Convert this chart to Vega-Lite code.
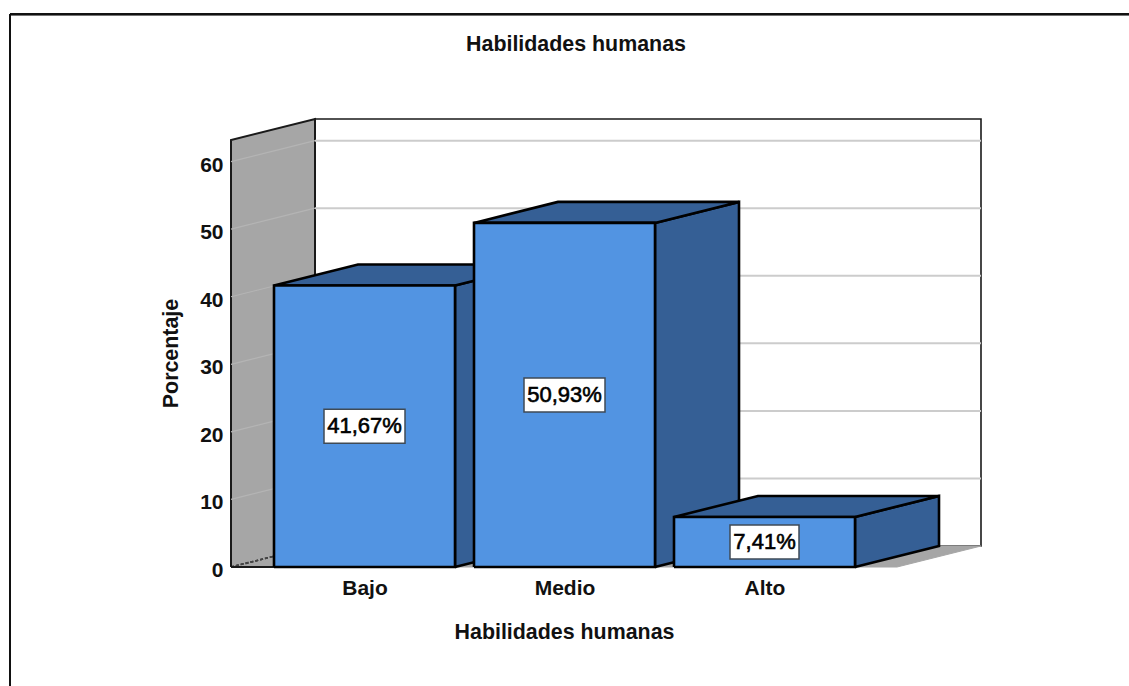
{
  "$schema": "https://vega.github.io/schema/vega-lite/v6.json",
  "width": 750,
  "height": 448,
  "autosize": "none",
  "padding": {"left": 231, "top": 119, "right": 148, "bottom": 119},
  "background": "white",
  "config": {"view": {"stroke": null}, "font": "Liberation Sans"},
  "title": {
    "text": "Habilidades humanas",
    "font": "Liberation Sans",
    "fontSize": 21.4,
    "fontWeight": "bold",
    "color": "#111111",
    "frame": "group",
    "anchor": "middle",
    "dx": -30,
    "offset": -42
  },
  "data": {
    "values": [
      {"nivel": "Bajo", "porcentaje": 41.67},
      {"nivel": "Medio", "porcentaje": 50.93},
      {"nivel": "Alto", "porcentaje": 7.41}
    ]
  },
  "layer": [
    {
      "data": {"values": [{"plano": "fondo"}]},
      "transform": [
        {"calculate": "[0.7525, 4.0825, 4.0825, 0.7525, 0.7525]", "as": "xs"},
        {"calculate": "[3.108, 3.108, 66.31, 66.31, 3.108]", "as": "ys"},
        {"calculate": "[0, 1, 2, 3, 4]", "as": "ord"},
        {"flatten": ["xs", "ys", "ord"]}
      ],
      "mark": {"type": "line", "fill": "white", "stroke": "#1a1a1a", "strokeWidth": 1.6, "strokeJoin": "miter"},
      "encoding": {
        "x": {
          "field": "xs",
          "type": "quantitative",
          "scale": {"domain": [0.3325, 4.0825], "nice": false, "zero": false},
          "axis": {
            "values": [1, 2, 3],
            "labelExpr": "['Bajo', 'Medio', 'Alto'][datum.value - 1]",
            "domain": false,
            "ticks": false,
            "grid": false,
            "labelFont": "Liberation Sans",
            "labelFontSize": 21,
            "labelFontWeight": "bold",
            "labelColor": "#111111",
            "labelPadding": 10,
            "labelFlush": false,
            "title": "Habilidades humanas",
            "titleFont": "Liberation Sans",
            "titleFontSize": 21.4,
            "titleFontWeight": "bold",
            "titleColor": "#111111",
            "titleX": 333,
            "titleY": 54,
            "titleAnchor": "middle",
            "titleAlign": "center"
          }
        },
        "y": {
          "field": "ys",
          "type": "quantitative",
          "scale": {"domain": [0, 66.31], "nice": false, "zero": false},
          "axis": {
            "values": [0, 10, 20, 30, 40, 50, 60],
            "domain": false,
            "ticks": false,
            "grid": false,
            "labelFont": "Liberation Sans",
            "labelFontSize": 21,
            "labelFontWeight": "bold",
            "labelColor": "#111111",
            "labelPadding": 8,
            "labelOffset": 3.5,
            "labelFlush": false,
            "title": "Porcentaje",
            "titleFont": "Liberation Sans",
            "titleFontSize": 21.4,
            "titleFontWeight": "bold",
            "titleColor": "#111111",
            "titleX": -50,
            "titleY": 234,
            "titleAnchor": "middle",
            "titleAlign": "center"
          }
        },
        "order": {"field": "ord", "type": "quantitative"}
      }
    },
    {
      "data": {"values": [{"plano": "suelo"}]},
      "transform": [
        {"calculate": "[0.3325, 3.6625, 4.0825, 0.7525, 0.3325]", "as": "xs"},
        {"calculate": "[0, 0, 3.108, 3.108, 0]", "as": "ys"},
        {"calculate": "[0, 1, 2, 3, 4]", "as": "ord"},
        {"flatten": ["xs", "ys", "ord"]}
      ],
      "mark": {"type": "line", "fill": "#a6a6a6", "stroke": "#a6a6a6", "strokeWidth": 1},
      "encoding": {
        "x": {"field": "xs", "type": "quantitative"},
        "y": {"field": "ys", "type": "quantitative"},
        "order": {"field": "ord", "type": "quantitative"}
      }
    },
    {
      "data": {"values": [{"plano": "pared"}]},
      "transform": [
        {"calculate": "[0.3325, 0.3325, 0.7525, 0.7525]", "as": "xs"},
        {"calculate": "[0, 63.202, 66.31, 3.108]", "as": "ys"},
        {"calculate": "[0, 1, 2, 3]", "as": "ord"},
        {"flatten": ["xs", "ys", "ord"]}
      ],
      "mark": {"type": "line", "fill": "#a6a6a6", "stroke": "#1a1a1a", "strokeWidth": 2, "strokeJoin": "miter"},
      "encoding": {
        "x": {"field": "xs", "type": "quantitative"},
        "y": {"field": "ys", "type": "quantitative"},
        "order": {"field": "ord", "type": "quantitative"}
      }
    },
    {
      "data": {"values": [{"marca": 10}, {"marca": 20}, {"marca": 30}, {"marca": 40}, {"marca": 50}, {"marca": 60}]},
      "transform": [{"calculate": "datum.marca + 3.108", "as": "atras"}],
      "layer": [
        {
          "mark": {"type": "rule", "stroke": "#cccccc", "strokeWidth": 2},
          "encoding": {
            "x": {"datum": 0.7525},
            "x2": {"datum": 4.0825},
            "y": {"field": "atras", "type": "quantitative"}
          }
        },
        {
          "mark": {"type": "rule", "stroke": "#b4b4b4", "strokeWidth": 1.2},
          "encoding": {
            "x": {"datum": 0.3325},
            "x2": {"datum": 0.7525},
            "y": {"field": "marca", "type": "quantitative"},
            "y2": {"field": "atras"}
          }
        }
      ]
    },
    {
      "mark": {"type": "rule", "stroke": "#444444", "strokeWidth": 1.6, "strokeDash": [3, 2]},
      "encoding": {
        "x": {"datum": 0.3325},
        "x2": {"datum": 0.7525},
        "y": {"datum": 0},
        "y2": {"datum": 3.108}
      }
    },
    {
      "mark": {"type": "rule", "stroke": "#1a1a1a", "strokeWidth": 2},
      "encoding": {
        "x": {"datum": 0.3325},
        "x2": {"datum": 0.6},
        "y": {"datum": 0}
      }
    },
    {
      "transform": [
        {"calculate": "indexof(['Bajo', 'Medio', 'Alto'], datum.nivel) + 1", "as": "pos"},
        {"calculate": "['lateral', 'superior', 'frontal']", "as": "cara"},
        {"flatten": ["cara"]},
        {"calculate": "datum.nivel + '-' + datum.cara", "as": "id"},
        {"calculate": "datum.pos - 0.4525", "as": "x0"},
        {"calculate": "datum.pos + 0.4525", "as": "x1"},
        {"calculate": "datum.cara === 'frontal' ? [datum.x0, datum.x1, datum.x1, datum.x0, datum.x0] : datum.cara === 'lateral' ? [datum.x1, datum.x1 + 0.42, datum.x1 + 0.42, datum.x1, datum.x1] : [datum.x0, datum.x1, datum.x1 + 0.42, datum.x0 + 0.42, datum.x0]", "as": "xs"},
        {"calculate": "datum.cara === 'frontal' ? [0, 0, datum.porcentaje, datum.porcentaje, 0] : datum.cara === 'lateral' ? [0, 3.108, datum.porcentaje + 3.108, datum.porcentaje, 0] : [datum.porcentaje, datum.porcentaje, datum.porcentaje + 3.108, datum.porcentaje + 3.108, datum.porcentaje]", "as": "ys"},
        {"calculate": "[0, 1, 2, 3, 4]", "as": "ord"},
        {"flatten": ["xs", "ys", "ord"]}
      ],
      "mark": {"type": "line", "stroke": "#000000", "strokeWidth": 2.6, "strokeJoin": "miter"},
      "encoding": {
        "x": {"field": "xs", "type": "quantitative"},
        "y": {"field": "ys", "type": "quantitative"},
        "detail": {"field": "id"},
        "fill": {
          "field": "cara",
          "type": "nominal",
          "legend": null,
          "scale": {"domain": ["frontal", "lateral", "superior"], "range": ["#5294e2", "#355f95", "#355f95"]}
        },
        "order": {"field": "ord", "type": "quantitative"}
      }
    },
    {
      "transform": [
        {"calculate": "indexof(['Bajo', 'Medio', 'Alto'], datum.nivel) + 1", "as": "pos"},
        {"calculate": "datum.porcentaje / 2", "as": "mitad"},
        {"calculate": "replace(format(datum.porcentaje, '.2f'), '.', ',') + '%'", "as": "etiqueta"},
        {"calculate": "(length(datum.etiqueta) * 12 + 9) / 400", "as": "semiancho"},
        {"calculate": "datum.pos - datum.semiancho", "as": "cajaX0"},
        {"calculate": "datum.pos + datum.semiancho", "as": "cajaX1"},
        {"calculate": "datum.mitad - 2.516", "as": "cajaY0"},
        {"calculate": "datum.mitad + 2.516", "as": "cajaY1"}
      ],
      "layer": [
        {
          "mark": {"type": "rect", "fill": "white", "stroke": "#3f4a55", "strokeWidth": 1.5},
          "encoding": {
            "x": {"field": "cajaX0", "type": "quantitative"},
            "x2": {"field": "cajaX1"},
            "y": {"field": "cajaY0", "type": "quantitative"},
            "y2": {"field": "cajaY1"}
          }
        },
        {
          "mark": {"type": "text", "font": "Liberation Sans", "fontSize": 22, "fontWeight": "normal", "fill": "#000000", "stroke": "#000000", "strokeWidth": 0.6, "align": "center", "baseline": "middle"},
          "encoding": {
            "x": {"field": "pos", "type": "quantitative"},
            "y": {"field": "mitad", "type": "quantitative"},
            "text": {"field": "etiqueta"}
          }
        }
      ]
    },
    {
      "mark": {"type": "rule", "stroke": "#111111", "strokeWidth": 2},
      "encoding": {
        "x": {"datum": -0.7725},
        "x2": {"datum": 4.8225},
        "y": {"datum": 81.8}
      }
    },
    {
      "mark": {"type": "rule", "stroke": "#111111", "strokeWidth": 2},
      "encoding": {
        "x": {"datum": -0.7725},
        "y": {"datum": 81.8},
        "y2": {"datum": -17.7}
      }
    }
  ]
}
